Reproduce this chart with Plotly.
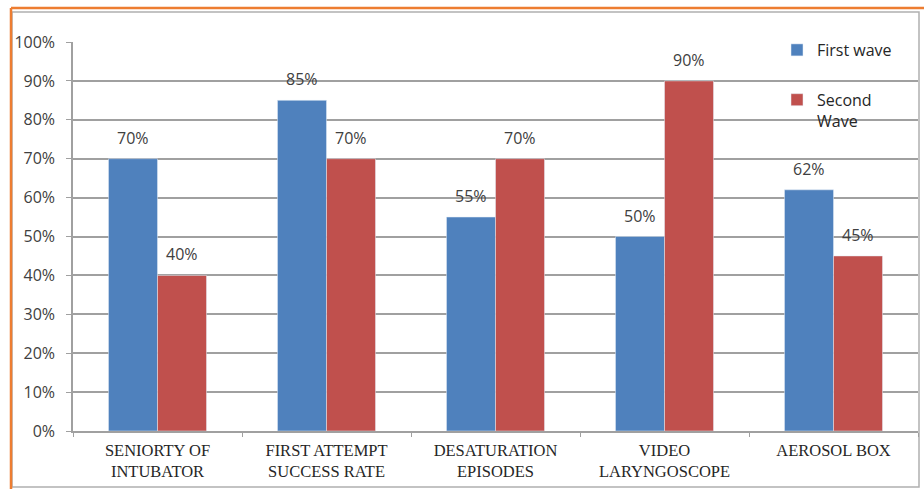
import plotly.graph_objects as go

categories = ["SENIORTY OF<br>INTUBATOR", "FIRST ATTEMPT<br>SUCCESS RATE",
              "DESATURATION<br>EPISODES", "VIDEO<br>LARYNGOSCOPE", "AEROSOL BOX"]
first_wave = [70, 85, 55, 50, 62]
second_wave = [40, 70, 70, 90, 45]
series_names = ["First wave", "Second<br>Wave"]
y_ticks = [0, 10, 20, 30, 40, 50, 60, 70, 80, 90, 100]

BLUE = "#4F81BD"
RED = "#C0504D"
W, H = 924, 489
L, R, T, B = 73, 6, 42, 58

fig = go.Figure()
fig.add_trace(go.Bar(x=categories, y=first_wave, name=series_names[0],
                     marker_color=BLUE, legendgroup="a"))
fig.add_trace(go.Bar(x=categories, y=second_wave, name=series_names[1],
                     marker_color=RED, legendgroup="b"))

ann = []
for vals, shift in ((first_wave, -24.5), (second_wave, 24.5)):
    for c, v in zip(categories, vals):
        ann.append(dict(x=c, y=v, xref="x", yref="y", text=f"{v}%", showarrow=False,
                        xshift=shift, yanchor="middle", yshift=21,
                        font=dict(family="Open Sans", size=16, color="#404040")))

def px_x(p):
    return (p - L) / (W - L - R)

def px_y(p):
    return (H - B - p) / (H - T - B)

shapes = [
    dict(type="rect", xref="paper", yref="paper", x0=px_x(12), x1=px_x(919),
         y0=px_y(487), y1=px_y(12), line=dict(color="#b0b0b0", width=1.5), layer="below"),
    dict(type="line", xref="paper", yref="paper", x0=px_x(11), x1=px_x(930),
         y0=px_y(8), y1=px_y(8), line=dict(color="#ED7D31", width=2.5)),
    dict(type="line", xref="paper", yref="paper", x0=px_x(11), x1=px_x(11),
         y0=px_y(8), y1=px_y(495), line=dict(color="#ED7D31", width=2.5)),
]

fig.update_layout(
    width=W, height=H,
    margin=dict(l=L, r=R, t=T, b=B),
    paper_bgcolor="white", plot_bgcolor="white",
    barmode="group", bargap=0.42, bargroupgap=0,
    annotations=ann, shapes=shapes,
    font=dict(family="Open Sans", size=16, color="#404040"),
    legend=dict(x=px_x(777), y=px_y(33), xanchor="left", yanchor="top",
                bgcolor="rgba(0,0,0,0)", tracegroupgap=26, valign="top",
                font=dict(family="Open Sans", size=16, color="#262626")),
    xaxis=dict(showline=True, linecolor="#a0a0a0", linewidth=1.5,
               ticks="outside", tickson="boundaries", ticklen=4, tickcolor="#a0a0a0",
               showgrid=False, ticklabelstandoff=3,
               tickfont=dict(family="Liberation Serif", size=16.5, color="#262626")),
    yaxis=dict(range=[0, 100], tickvals=y_ticks, ticktext=[f"{t}%" for t in y_ticks],
               showline=True, linecolor="#a0a0a0", linewidth=1.5,
               ticks="outside", ticklen=5, tickcolor="#a0a0a0", ticklabelstandoff=8,
               showgrid=True, gridcolor="#a0a0a0", gridwidth=1.5, zeroline=False,
               tickfont=dict(family="Open Sans", size=16, color="#404040")),
)

fig.write_html("out.html")
